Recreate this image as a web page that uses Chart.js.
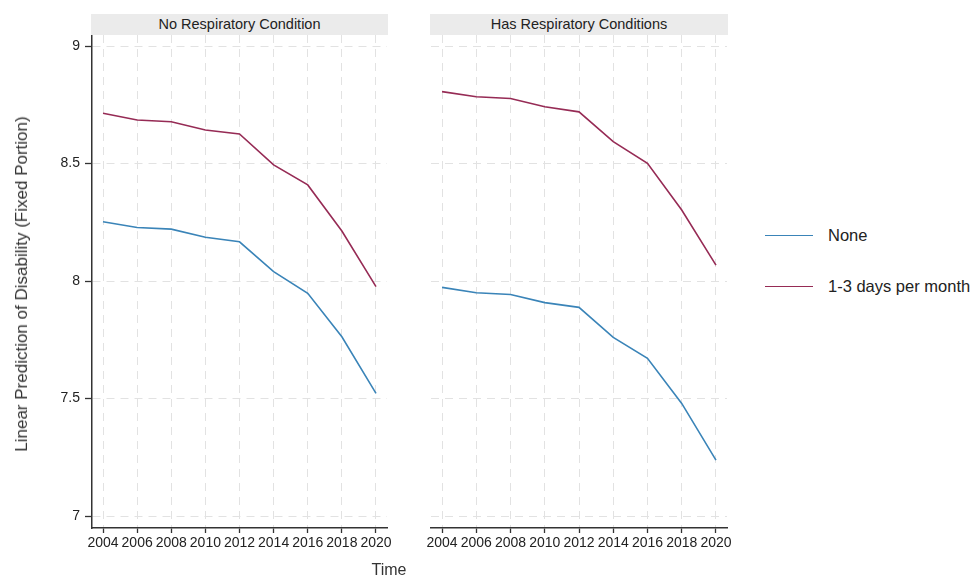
<!DOCTYPE html>
<html>
<head>
<meta charset="utf-8">
<script src="https://cdn.jsdelivr.net/npm/chart.js@4/dist/chart.umd.min.js"></script>
<style>
  html, body { margin: 0; padding: 0; background: #fff; }
  body { width: 974px; height: 577px; position: relative; overflow: hidden;
         font-family: "Liberation Sans", Arial, sans-serif; color: #222; }
  canvas { position: absolute; top: 0; }
  .strip { position: absolute; top: 14px; height: 21px; background: #ebebeb;
           font-size: 14.5px; line-height: 21px; text-align: center; color: #222; }
  .ytitle { position: absolute; left: 22px; top: 284px; white-space: nowrap; font-size: 17px;
            transform: translate(-50%, -50%) rotate(-90deg); color: #333; }
  .xtitle { position: absolute; left: 389px; top: 570px; font-size: 16px;
            transform: translate(-50%, -50%); color: #333; }
  .legend { position: absolute; left: 765px; font-size: 16.5px; white-space: nowrap; color: #222; }
  .legend .sw { position: absolute; left: 0; top: 0; width: 48px; height: 0; border-top: 1.6px solid; }
  .legend .lbl { position: absolute; left: 63px; top: 0; transform: translateY(-50%); }
</style>
</head>
<body>
<canvas id="left" width="400" height="577" style="left:0"></canvas>
<canvas id="right" width="320" height="577" style="left:420px"></canvas>
<div class="strip" style="left:91px;width:297px">No Respiratory Condition</div>
<div class="strip" style="left:430px;width:298px">Has Respiratory Conditions</div>
<div class="ytitle">Linear Prediction of Disability (Fixed Portion)</div>
<div class="xtitle">Time</div>
<div id="legend"></div>
<script>
// Survey waves
const years = [2004, 2006, 2008, 2010, 2012, 2014, 2016, 2018, 2020];

// Series names and colours
const seriesNames = ['None', '1-3 days per month'];
const seriesColors = ['#3a84b8', '#962b55'];

// Panel titles
const panelTitles = ['No Respiratory Condition', 'Has Respiratory Conditions'];

// Predicted disability, no respiratory condition
const noRespNone    = [8.252, 8.228, 8.221, 8.186, 8.167, 8.040, 7.948, 7.763, 7.522];
const noRespMonthly = [8.714, 8.685, 8.678, 8.643, 8.626, 8.494, 8.409, 8.213, 7.976];

// Predicted disability, has respiratory conditions
const hasRespNone    = [7.973, 7.950, 7.943, 7.908, 7.888, 7.760, 7.671, 7.479, 7.238];
const hasRespMonthly = [8.806, 8.784, 8.777, 8.742, 8.720, 8.593, 8.501, 8.302, 8.068];

// Axis ranges and tick step
const xMin = 2003.355, xMax = 2020.645, xStep = 2;
const yMin = 6.949, yMax = 9.047, yStep = 0.5;

const FONT = '"Liberation Sans", Arial, sans-serif';
const GRID = '#e2e2e2';
const AXIS = '#333';

function toPoints(vals) {
  return years.map((x, i) => ({ x: x, y: vals[i] }));
}

function makeDatasets(seriesList) {
  return seriesList.map((vals, k) => ({
    label: seriesNames[k],
    data: toPoints(vals),
    borderColor: seriesColors[k],
    backgroundColor: seriesColors[k],
    borderWidth: 1.6,
    pointRadius: 0,
    tension: 0,
    fill: false
  }));
}

function makeChart(id, seriesList, showYAxis, yWidth) {
  return new Chart(document.getElementById(id), {
    type: 'line',
    data: { datasets: makeDatasets(seriesList) },
    options: {
      responsive: false,
      animation: false,
      devicePixelRatio: 1,
      layout: { padding: { left: 0, right: 13, top: 35, bottom: 19 } },
      plugins: { legend: { display: false }, tooltip: { enabled: false } },
      scales: {
        x: {
          type: 'linear',
          min: xMin, max: xMax,
          afterFit: s => { s.height = 30; },
          ticks: {
            stepSize: xStep, includeBounds: false, autoSkip: false,
            maxRotation: 0, minRotation: 0, padding: 2,
            color: '#222', font: { family: FONT, size: 14 },
            callback: v => String(v)
          },
          grid: {
            color: GRID, lineWidth: 1, drawTicks: true, tickLength: 5,
            tickColor: AXIS, tickWidth: 1.3, tickBorderDash: []
          },
          border: { display: true, color: AXIS, width: 1.5, dash: [8, 6] }
        },
        y: {
          type: 'linear',
          min: yMin, max: yMax,
          afterFit: s => { s.width = yWidth; },
          ticks: {
            display: showYAxis,
            stepSize: yStep, includeBounds: false, padding: 5,
            color: '#222', font: { family: FONT, size: 14 },
            callback: v => String(Number(v.toFixed(2)))
          },
          grid: {
            color: GRID, lineWidth: 1, drawTicks: showYAxis, tickLength: 7,
            tickColor: AXIS, tickWidth: 1.3, tickBorderDash: []
          },
          border: { display: showYAxis, color: AXIS, width: 1.5, dash: [8, 6] }
        }
      }
    }
  });
}

makeChart('left', [noRespNone, noRespMonthly], true, 92);
makeChart('right', [hasRespNone, hasRespMonthly], false, 11);

// Legend built from the series names and colours
const legendTops = [235, 286];
const legendBox = document.getElementById('legend');
seriesNames.forEach((name, k) => {
  const item = document.createElement('div');
  item.className = 'legend';
  item.style.top = legendTops[k] + 'px';
  item.innerHTML = '<div class="sw" style="border-color:' + seriesColors[k] + '"></div>' +
                   '<div class="lbl">' + name + '</div>';
  legendBox.appendChild(item);
});
</script>
</body>
</html>
